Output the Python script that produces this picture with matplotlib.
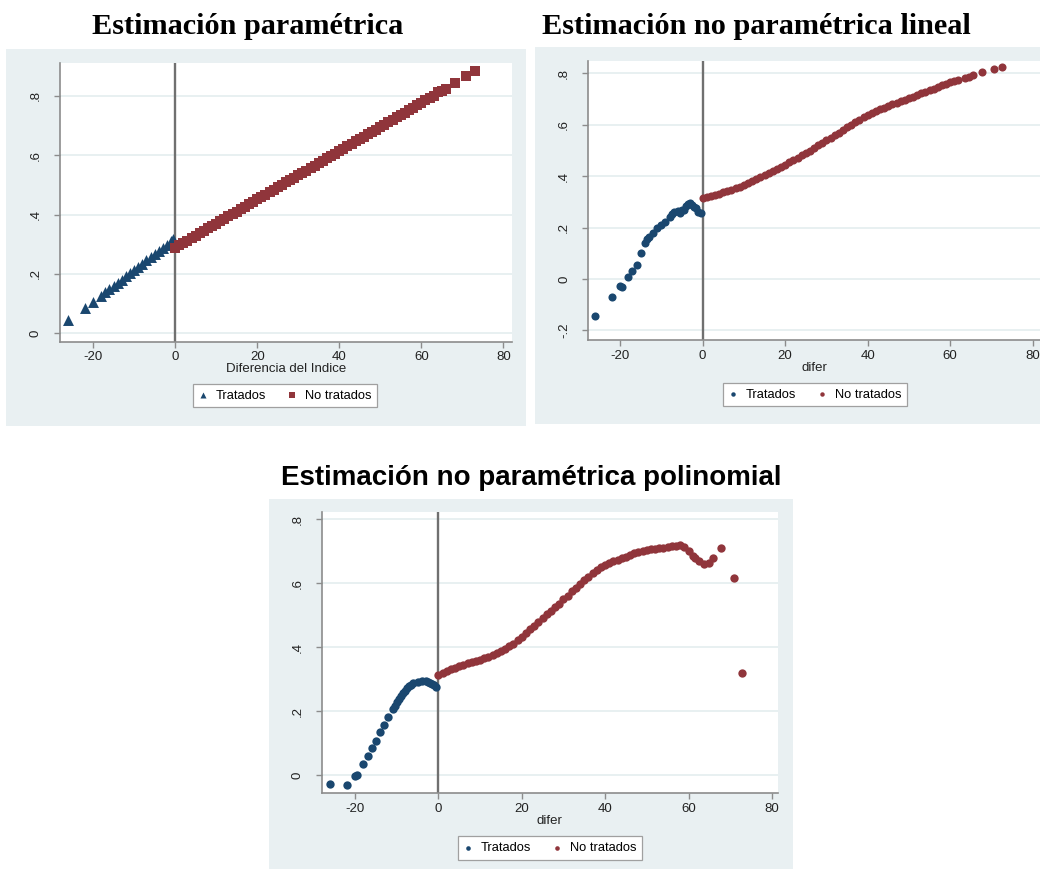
import matplotlib.pyplot as plt
from matplotlib.patches import Rectangle

# ---- data ----
# Panel 1: estimacion parametrica
p1_x_trat = [-26, -22, -20, -18, -17, -16, -15, -14, -13, -12, -11, -10, -9, -8,
             -7, -6, -5, -4, -3, -2, -1, -0.5]
p1_y_trat = [0.044, 0.085, 0.107, 0.127, 0.138, 0.148, 0.160, 0.170, 0.181, 0.192,
             0.203, 0.213, 0.224, 0.235, 0.246, 0.256, 0.267, 0.278, 0.288, 0.299,
             0.310, 0.316]
p1_x_notrat = list(range(0, 64)) + [64, 65, 66, 68.1, 71, 73]
p1_y_notrat = [0.288, 0.296, 0.304, 0.312, 0.321, 0.329, 0.337, 0.345, 0.353, 0.361,
               0.369, 0.377, 0.386, 0.394, 0.402, 0.410, 0.418, 0.426, 0.434, 0.442,
               0.451, 0.459, 0.467, 0.475, 0.483, 0.491, 0.499, 0.508, 0.516, 0.524,
               0.532, 0.540, 0.548, 0.556, 0.564, 0.573, 0.581, 0.589, 0.597, 0.605,
               0.613, 0.621, 0.629, 0.638, 0.646, 0.654, 0.662, 0.670, 0.678, 0.686,
               0.694, 0.703, 0.711, 0.719, 0.727, 0.735, 0.743, 0.751, 0.759, 0.768,
               0.776, 0.784, 0.792, 0.800,
               0.811, 0.816, 0.822, 0.842, 0.865, 0.883]

# Panel 2: estimacion no parametrica lineal
p2_x_trat = [-26, -22, -20, -19.5, -18, -17, -16, -15, -14, -13.5, -13, -12, -11, -10,
             -9, -8, -7.5, -7, -6, -5.5, -5, -4.5, -4, -3.5, -3, -2.5, -2, -1.5, -1, -0.5]
p2_y_trat = [-0.145, -0.068, -0.028, -0.030, 0.009, 0.033, 0.055, 0.103, 0.140, 0.155,
             0.165, 0.180, 0.197, 0.210, 0.222, 0.240, 0.255, 0.262, 0.265, 0.258,
             0.270, 0.268, 0.285, 0.292, 0.294, 0.290, 0.281, 0.275, 0.262, 0.258]
p2_x_notrat = list(range(0, 63)) + [63.5, 64.6, 65.5, 67.8, 70.6, 72.6]
p2_y_notrat = [0.315, 0.319, 0.323, 0.328, 0.332, 0.337, 0.342, 0.347, 0.353, 0.359,
               0.365, 0.372, 0.380, 0.388, 0.397, 0.405, 0.413, 0.421, 0.429, 0.437,
               0.445, 0.454, 0.463, 0.472, 0.481, 0.490, 0.500, 0.510, 0.520, 0.530,
               0.540, 0.550, 0.560, 0.570, 0.580, 0.590, 0.600, 0.610, 0.620, 0.629,
               0.638, 0.647, 0.655, 0.661, 0.667, 0.673, 0.680, 0.686, 0.692, 0.698,
               0.703, 0.710, 0.716, 0.722, 0.729, 0.735, 0.741, 0.747, 0.753, 0.759,
               0.765, 0.770, 0.775,
               0.783, 0.787, 0.792, 0.804, 0.817, 0.826]

# Panel 3: estimacion no parametrica polinomial
p3_x_trat = [-26, -22, -20, -19.6, -18, -17, -16, -15, -14, -13, -12, -11, -10.5, -10,
             -9.5, -9, -8.5, -8, -7.5, -7, -6.5, -6, -5, -4, -3, -2.5, -2, -1.5, -1, -0.5]
p3_y_trat = [-0.028, -0.031, -0.003, 0.000, 0.035, 0.060, 0.084, 0.108, 0.134, 0.158,
             0.180, 0.205, 0.215, 0.228, 0.238, 0.247, 0.256, 0.264, 0.271, 0.278,
             0.283, 0.287, 0.292, 0.294, 0.294, 0.292, 0.289, 0.285, 0.280, 0.276]
p3_x_notrat = list(range(0, 59)) + [59, 60, 61, 61.6, 62.5, 63.6, 64.8, 65.8, 67.8, 70.8, 72.8]
p3_y_notrat = [0.312, 0.318, 0.324, 0.330, 0.335, 0.340, 0.345, 0.350, 0.353, 0.356,
               0.360, 0.365, 0.370, 0.375, 0.381, 0.387, 0.394, 0.402, 0.411, 0.421,
               0.431, 0.443, 0.455, 0.467, 0.479, 0.491, 0.502, 0.513, 0.524, 0.536,
               0.549, 0.561, 0.574, 0.586, 0.598, 0.609, 0.620, 0.631, 0.640, 0.649,
               0.656, 0.662, 0.668, 0.673, 0.678, 0.683, 0.688, 0.693, 0.697, 0.701,
               0.704, 0.706, 0.708, 0.709, 0.711, 0.713, 0.715, 0.717, 0.719,
               0.712, 0.700, 0.686, 0.677, 0.668, 0.659, 0.663, 0.679, 0.711, 0.617, 0.319]

x_ticks = [-20, 0, 20, 40, 60, 80]

NAVY = "#1a476f"
MAROON = "#90353b"
BG = "#e9f0f2"
GRAY = "#8c8c8c"

W, H = 1040, 869
plt.rcParams["font.family"] = ["Liberation Sans", "DejaVu Sans"]
plt.rcParams["axes.unicode_minus"] = False
fig = plt.figure(figsize=(W / 100, H / 100), dpi=100)


def rect(x0, y0, x1, y1):
    # pixel box (top-left origin) -> figure fraction
    return [x0 / W, 1 - y1 / H, (x1 - x0) / W, (y1 - y0) / H]


def stata_fmt(v):
    s = f"{v:g}"
    return s.replace("0.", ".")


def panel(box, bg, xlim, ylim, yticks, xt, yt, xn, yn, marker_t, marker_n, size_t, size_n,
          xlabel, leg_center):
    b = rect(*bg)
    fig.patches.append(Rectangle((b[0], b[1]), b[2], b[3], transform=fig.transFigure,
                                 facecolor=BG, edgecolor="none", zorder=-5))
    ax = fig.add_axes(rect(*box))
    ax.set_zorder(1)
    ax.set_facecolor("white")
    ax.set_xlim(*xlim)
    ax.set_ylim(*ylim)
    ax.set_xticks(x_ticks)
    ax.set_yticks(yticks)
    ax.set_yticklabels([stata_fmt(v) for v in yticks], rotation=90, va="center")
    for v in yticks:
        ax.axhline(v, color="#e4edef", lw=1.2, zorder=0.5)
    ax.axvline(0, color="#707070", lw=1.7, zorder=1)
    ax.scatter(xt, yt, marker=marker_t, s=size_t, color=NAVY, linewidths=0, zorder=3,
               label="Tratados")
    ax.scatter(xn, yn, marker=marker_n, s=size_n, color=MAROON, linewidths=0, zorder=3,
               label="No tratados")
    for side in ["top", "right"]:
        ax.spines[side].set_visible(False)
    for side in ["left", "bottom"]:
        ax.spines[side].set_color(GRAY)
        ax.spines[side].set_linewidth(1.2)
    ax.tick_params(axis="both", colors=GRAY, labelcolor="#222222", length=4, width=1,
                   labelsize=9.5)
    ax.tick_params(axis="y", pad=9)
    ax.tick_params(axis="x", pad=3)
    ax.set_xlabel(xlabel, fontsize=9.5, color="#222222", labelpad=0)
    leg = ax.legend(loc="center", bbox_to_anchor=(leg_center[0] / W, 1 - leg_center[1] / H),
                    bbox_transform=fig.transFigure, ncol=2, frameon=True, fancybox=False,
                    edgecolor="#a0a0a0", framealpha=1, fontsize=9.3, borderpad=0.45,
                    handlelength=0.6, handletextpad=0.7, columnspacing=1.7, markerscale=0.55)
    leg.get_frame().set_linewidth(0.9)
    return ax


panel((60, 63, 512, 341.7), (6, 49, 526, 426), (-28.06, 82.1), (-0.028, 0.91),
      [0, 0.2, 0.4, 0.6, 0.8], p1_x_trat, p1_y_trat, p1_x_notrat, p1_y_notrat,
      "^", "s", 62, 45, "Diferencia del Indice", (285, 395.5))

panel((588.3, 60.8, 1041, 340), (535, 47, 1045, 424), (-27.7, 82), (-0.237, 0.849),
      [-0.2, 0, 0.2, 0.4, 0.6, 0.8], p2_x_trat, p2_y_trat, p2_x_notrat, p2_y_notrat,
      "o", "o", 34, 34, "difer", (815, 394.5))

panel((321.7, 511.7, 777.7, 793.3), (269, 499, 793, 872), (-28, 81.4), (-0.057, 0.823),
      [0, 0.2, 0.4, 0.6, 0.8], p3_x_trat, p3_y_trat, p3_x_notrat, p3_y_notrat,
      "o", "o", 36, 36, "difer", (550, 848))

fig.text(248 / W, 1 - 27 / H, "Estimación paramétrica", ha="center", va="center",
         fontsize=21.8, fontweight="bold", family=["Liberation Serif", "DejaVu Serif"])
fig.text(542 / W, 1 - 26 / H, "Estimación no paramétrica lineal", ha="left", va="center",
         fontsize=21.8, fontweight="bold", family=["Liberation Serif", "DejaVu Serif"])
fig.text(531 / W, 1 - 478 / H, "Estimación no paramétrica polinomial", ha="center",
         va="center", fontsize=20, fontweight="bold")

fig.savefig("out.png", dpi=100)
